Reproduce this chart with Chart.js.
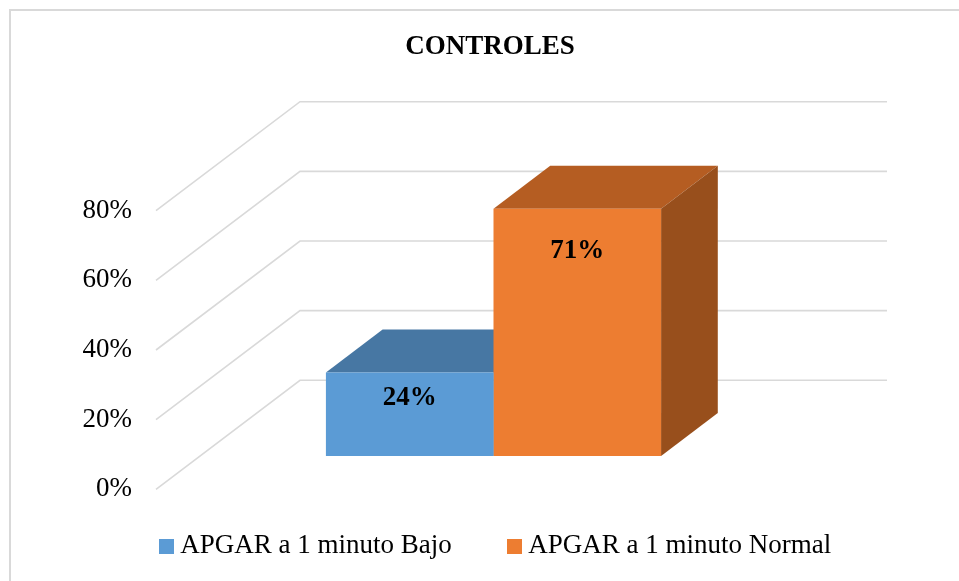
<!DOCTYPE html>
<html>
<head>
<meta charset="utf-8">
<title>CONTROLES</title>
<script src="https://cdn.jsdelivr.net/npm/chart.js@4"></script>
<style>
  body { margin: 0; background: #fff; }
  canvas { display: block; }
</style>
</head>
<body>
<canvas id="grafico" width="959" height="581"></canvas>
<script>
// datos
var categorias = ["Controles"];
var nombres = ["APGAR a 1 minuto Bajo", "APGAR a 1 minuto Normal"];
var valores = [[24], [71]];
var marcasY = [0, 20, 40, 60, 80];

var frente = ["#5B9BD5", "#ED7D31"];
var arriba = ["#4777A3", "#B55D22"];
var lado = ["#3F6A92", "#984F1C"];
var fuente = "'Liberation Serif', 'Times New Roman', serif";

// cuadrito de la leyenda, asi el texto queda pegado como en el original
function cuadrito(color) {
    var c = document.createElement("canvas");
    c.width = 15;
    c.height = 15;
    var g = c.getContext("2d");
    g.fillStyle = color;
    g.fillRect(0, 0, 15, 15);
    return c;
}

function poligono(ctx, color, pts) {
    ctx.fillStyle = color;
    ctx.beginPath();
    ctx.moveTo(pts[0][0], pts[0][1]);
    for (var i = 1; i < pts.length; i++) {
        ctx.lineTo(pts[i][0], pts[i][1]);
    }
    ctx.closePath();
    ctx.fill();
}

var efecto3d = {
    id: "efecto3d",
    beforeLayout: function (chart) {
        // la leyenda no debe quitarle alto al area del grafico
        var legend = chart.legend;
        if (!legend._parchada) {
            var fit = legend.fit;
            legend.fit = function () {
                fit.call(this);
                this.height = 91.7;
            };
            legend._parchada = true;
        }
    },
    afterLayout: function (chart) {
        chart.legend.top = 470.5;
        chart.legend.left = 21 + 8.5;
        chart.legend.right = 959 + 8.5;
    },
    beforeDraw: function (chart) {
        var ctx = chart.ctx;
        // marco
        ctx.save();
        ctx.strokeStyle = "#D9D9D9";
        ctx.lineWidth = 2;
        ctx.beginPath();
        ctx.moveTo(10, 581);
        ctx.lineTo(10, 10);
        ctx.lineTo(959, 10);
        ctx.stroke();
        ctx.restore();
    },
    beforeDatasetsDraw: function (chart) {
        var ctx = chart.ctx;
        var y = chart.scales.y;
        var left = chart.chartArea.left;
        var prof = { x: 144, y: 109 };
        ctx.save();
        // lineas de la pared y el piso
        ctx.strokeStyle = "#D9D9D9";
        ctx.lineWidth = 1.6;
        marcasY.forEach(function (m) {
            var py = y.getPixelForValue(m);
            ctx.beginPath();
            ctx.moveTo(left, py);
            ctx.lineTo(left + prof.x, py - prof.y);
            ctx.lineTo(887, py - prof.y);
            ctx.stroke();
        });
        // las barras van a media profundidad
        ctx.translate(44, -33.3);
        var dx = 56.7, dy = 43;
        chart.getSortedVisibleDatasetMetas().forEach(function (meta) {
            var i = meta.index;
            meta.data.forEach(function (bar) {
                var l = bar.x - bar.width / 2, r = bar.x + bar.width / 2;
                poligono(ctx, arriba[i], [[l, bar.y], [l + dx, bar.y - dy], [r + dx, bar.y - dy], [r, bar.y]]);
                poligono(ctx, lado[i], [[r, bar.y], [r + dx, bar.y - dy], [r + dx, bar.base - dy], [r, bar.base]]);
            });
        });
    },
    afterDatasetsDraw: function (chart) {
        var ctx = chart.ctx;
        var bajada = [26, 42];
        ctx.font = "bold 27px " + fuente;
        ctx.fillStyle = "#000";
        ctx.textAlign = "center";
        ctx.textBaseline = "middle";
        chart.getSortedVisibleDatasetMetas().forEach(function (meta) {
            meta.data.forEach(function (bar, j) {
                var v = chart.data.datasets[meta.index].data[j];
                ctx.fillText(v + "%", bar.x, bar.y + bajada[meta.index]);
            });
        });
        ctx.restore();
    }
};

var grafico = new Chart(document.getElementById("grafico"), {
    type: "bar",
    data: {
        labels: categorias,
        datasets: nombres.map(function (n, i) {
            return { label: n, data: valores[i], backgroundColor: frente[i], clip: false };
        })
    },
    options: {
        responsive: false,
        animation: false,
        categoryPercentage: 0.571,
        barPercentage: 1,
        layout: { padding: { left: 21, right: 0, top: 0, bottom: 0 } },
        plugins: {
            tooltip: { enabled: false },
            title: {
                display: true,
                text: "CONTROLES",
                color: "#000",
                font: { family: fuente, size: 27, weight: "bold", lineHeight: 1.2 },
                padding: { top: 31, bottom: 147.3 }
            },
            legend: {
                position: "bottom",
                labels: {
                    color: "#000",
                    font: { family: fuente, size: 27 },
                    usePointStyle: true,
                    pointStyleWidth: 1,
                    boxWidth: 1,
                    boxHeight: 15,
                    padding: 62,
                    generateLabels: function (chart) {
                        return nombres.map(function (n, i) {
                            return { text: n, pointStyle: cuadrito(frente[i]), datasetIndex: i, lineWidth: 0, fontColor: "#000" };
                        });
                    }
                }
            }
        },
        scales: {
            x: { display: false },
            y: {
                min: 0,
                max: 80,
                afterFit: function (scale) { scale.width = 135; },
                afterBuildTicks: function (scale) {
                    scale.ticks = marcasY.map(function (m) { return { value: m }; });
                },
                grid: { display: false, drawTicks: false },
                border: { display: false },
                ticks: {
                    color: "#000",
                    padding: 24,
                    font: { family: fuente, size: 27 },
                    callback: function (v) { return v + "%"; }
                }
            },
            // eje vacio a la derecha, solo reserva el espacio de la profundidad
            derecha: {
                position: "right",
                afterFit: function (scale) { scale.width = 216; },
                grid: { display: false, drawTicks: false },
                border: { display: false },
                ticks: { display: false }
            }
        }
    },
    plugins: [efecto3d]
});
</script>
</body>
</html>
